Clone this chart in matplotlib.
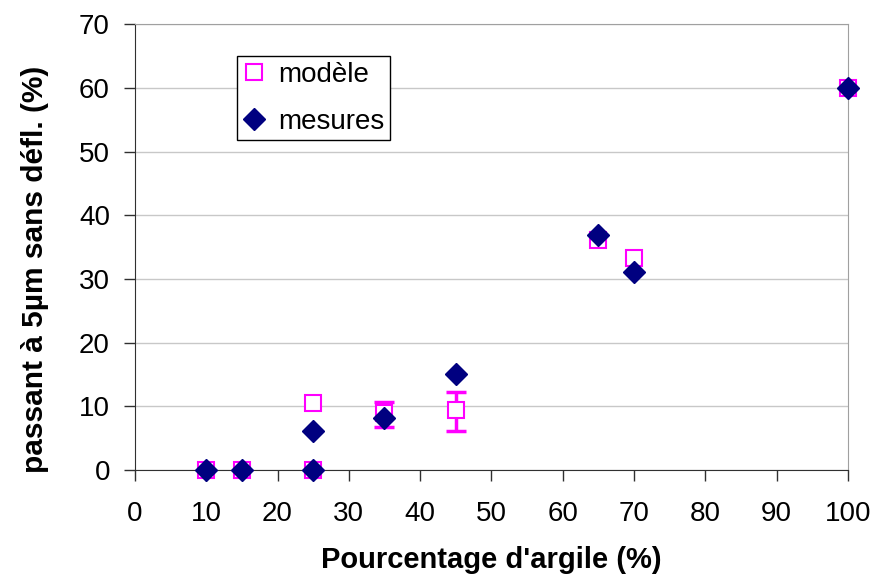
import matplotlib
matplotlib.use("Agg")
import matplotlib.pyplot as plt
import numpy as np

plt.rcParams['font.family'] = ['Liberation Sans', 'DejaVu Sans']

model_x = [10, 15, 25, 25, 35, 45, 65, 70, 100]
model_y = [0, 0, 10.6, 0, 8.9, 9.4, 36.1, 33.3, 60]
err_lo = [0, 0, 0, 0, 2.2, 3.3, 0, 0, 0]
err_hi = [0, 0, 0, 0, 1.8, 2.8, 0, 0, 0]
mes_x = [10, 15, 25, 25, 35, 45, 65, 70, 100]
mes_y = [0, 0, 6.1, 0, 8.1, 15.1, 36.9, 31.1, 60]

fig = plt.figure(figsize=(8.76, 5.76), dpi=100)
ax = fig.add_axes([0.154, 0.184, 0.814, 0.774])

for i in range(len(model_x)):
    if err_lo[i] > 0 or err_hi[i] > 0:
        ax.errorbar([model_x[i]], [model_y[i]], yerr=[[err_lo[i]], [err_hi[i]]],
                    fmt='none', ecolor='#FF00FF', elinewidth=2.5, capsize=7,
                    capthick=2.5, zorder=3, clip_on=False)
ax.plot(model_x, model_y, linestyle='none', marker='s', markersize=12,
        markerfacecolor='white', markeredgecolor='#FF00FF', markeredgewidth=1.5,
        label='modèle', zorder=4, clip_on=False)
ax.plot(mes_x, mes_y, linestyle='none', marker='D', markersize=11,
        markerfacecolor='#000080', markeredgecolor='#000080',
        label='mesures', zorder=5, clip_on=False)

ax.set_xlim(0, 100)
ax.set_ylim(0, 70)
ax.set_xticks(np.arange(0, 101, 10))
ax.set_yticks(np.arange(0, 71, 10))
ax.yaxis.grid(True, color='#C8C8C8', linewidth=1)
ax.set_axisbelow(True)
ax.spines['top'].set_color('#A0A0A0')
ax.spines['right'].set_color('#A0A0A0')
ax.spines['left'].set_color('#303030')
ax.spines['bottom'].set_color('#303030')
ax.tick_params(axis='both', labelsize=20, direction='out', length=8,
               color='#303030', width=1)
ax.tick_params(axis='x', pad=14)
ax.tick_params(axis='y', pad=10)
ax.set_xlabel("Pourcentage d'argile (%)", fontsize=21, fontweight='bold', labelpad=14)
ax.set_ylabel("passant à 5µm sans défl. (%)", fontsize=21.5, fontweight='bold')
ax.yaxis.set_label_coords(-0.1206, 0.4507)

leg = ax.legend(loc='upper left', bbox_to_anchor=(0.143, 0.928), fontsize=20,
                frameon=True, fancybox=False, edgecolor='black', framealpha=1,
                handlelength=0.8, handletextpad=0.5, borderpad=0.2,
                labelspacing=0.75, borderaxespad=0)
leg.get_frame().set_linewidth(1)

fig.savefig('out.png', dpi=100)
